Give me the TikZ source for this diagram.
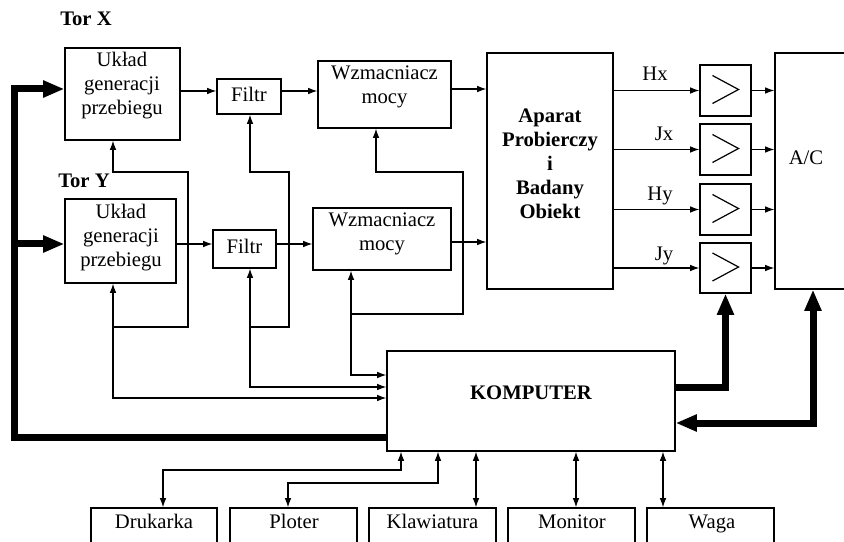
\documentclass[tikz,border=0pt]{standalone}
\usepackage{fontspec}
\setmainfont{Liberation Serif}
\usetikzlibrary{arrows.meta,fit}
\begin{document}
\begin{tikzpicture}[x=0.75pt,y=-0.75pt,
  every node/.style={font=\fontsize{15.5}{18}\selectfont},
  box/.style={draw, line width=0.9pt, inner sep=0pt, fit={#1}},
  txt/.style={align=center, inner sep=0pt},
  btxt/.style={inner sep=0pt, anchor=base},
  wire/.style={line width=0.9pt},
  >={Latex[length=7pt,width=5pt]},
  bus/.style={line width=5.25pt},
  bigtip/.tip={Triangle[length=16pt,width=12pt]}
]
\useasboundingbox (0,0) rectangle (844,542);

% boxes
\node[box={(65,48) (180,140)}] (ugpx) {};
\node[box={(217,79) (281,114)}] (fx) {};
\node[box={(318,61) (451,128)}] (wx) {};
\node[box={(487,53) (613,289)}] (ap) {};
\node[box={(700,65) (751,116)}] (a1) {};
\node[box={(700,124) (751,175)}] (a2) {};
\node[box={(700,184) (751,235)}] (a3) {};
\node[box={(700,243) (751,293)}] (a4) {};
\node[box={(775,53) (880,289)}] (ac) {};
\node[box={(65,199) (176,283)}] (ugpy) {};
\node[box={(213,230) (276,268)}] (fy) {};
\node[box={(313,208) (451,270)}] (wy) {};
\node[box={(387,351) (675,451)}] (komp) {};
\node[box={(91,508) (217,570)}] (drk) {};
\node[box={(230,508) (357,570)}] (plt) {};
\node[box={(369,508) (496,570)}] (kl) {};
\node[box={(508,508) (635,570)}] (mon) {};
\node[box={(647,508) (774,570)}] (wag) {};

% texts
\node[txt] (torx) at (86,19) {\bfseries Tor X};
\node[txt] (tory) at (84,181) {\bfseries Tor Y};
\node[txt] (ugpxt) at (122,86) {Układ\\generacji\\przebiegu};
\node[txt] (ugpyt) at (121,238) {Układ\\generacji\\przebiegu};
\node[txt] (fxt) at (249,94) {Filtr};
\node[txt] (fyt) at (244.5,246) {Filtr};
\node[txt] (wxt) at (384.5,87) {Wzmacniacz\\mocy};
\node[txt] (wyt) at (382,234) {Wzmacniacz\\mocy};
\node[txt] (apt) at (550,164) {\bfseries Aparat\\\bfseries Probierczy\\\bfseries i\\\bfseries Badany\\\bfseries Obiekt};
\node[txt] (act) at (806,158) {A/C};
\node[txt] (kompt) at (531,393) {\bfseries KOMPUTER};
\node[btxt] (drkt) at (154,528) {Drukarka};
\node[btxt] (pltt) at (294,528) {Ploter};
\node[btxt] (klt) at (432.5,528) {Klawiatura};
\node[btxt] (mont) at (572,528) {Monitor};
\node[btxt] (wagt) at (712,528) {Waga};
\node[btxt] (lhx) at (655,81) {Hx};
\node[btxt] (ljx) at (664,141) {Jx};
\node[btxt] (lhy) at (660,200) {Hy};
\node[btxt] (ljy) at (664,260) {Jy};

% amplifier symbols
\foreach \a in {a1,a2,a3,a4}
  \draw[wire] ([shift={(-13,-15)}]\a.center) -- ([shift={(13,-1)}]\a.center) -- ([shift={(-13,13)}]\a.center);

% signal path X
\draw[wire,->] (ugpx.east |- 0,91) -- (fx.west |- 0,91);
\draw[wire,->] (fx.east |- 0,91) -- (wx.west |- 0,91);
\draw[wire,->] (wx.east |- 0,89) -- (ap.west |- 0,89);
% signal path Y
\draw[wire,->] (ugpy.east |- 0,244) -- (fy.west |- 0,244);
\draw[wire,->] (fy.east |- 0,244) -- (wy.west |- 0,244);
\draw[wire,->] (wy.east |- 0,242) -- (ap.west |- 0,242);

% aparat -> amplifiers -> A/C
\foreach \a in {a1,a2,a3,a4}{
  \draw[wire,->] (ap.east |- \a.west) -- (\a.west);
  \draw[wire,->] (\a.east) -- (ac.west |- \a.east);
}

% control lines from computer
\draw[wire,<->] (ugpy.south -| 113,0) |- (komp.west |- 0,398);
\coordinate (j1) at (113,327);
\draw[wire,->] (j1) -| (188,172) -| (ugpx.south -| 113,0);

\draw[wire,<->] (fy.south -| 250,0) |- (komp.west |- 0,387);
\coordinate (j2) at (250,327);
\draw[wire,->] (j2) -| (289,172) -| (fx.south -| 250,0);

\draw[wire,<->] (wy.south -| 351,0) |- (komp.west |- 0,375);
\coordinate (j3) at (351,314);
\draw[wire,->] (j3) -| (463,172) -| (wx.south -| 376,0);

% peripherals
\draw[wire,<->] (komp.south -| 401,0) -- (401,470) -| (drk.north -| 163,0);
\draw[wire,<->] (komp.south -| 438,0) -- (438,483) -| (plt.north -| 288,0);
\draw[wire,<->] (komp.south -| 476,0) -- (kl.north -| 476,0);
\draw[wire,<->] (komp.south -| 576,0) -- (mon.north -| 576,0);
\draw[wire,<->] (komp.south -| 663,0) -- (wag.north -| 663,0);

% thick buses
\draw[bus,-bigtip] (komp.west |- 0,437) -| (14,89) -- (ugpx.west |- 0,89);
\coordinate (j4) at (14,244);
\draw[bus,-bigtip] (j4) -- (ugpy.west |- 0,244);
\draw[bus,-bigtip] (komp.east |- 0,387) -| (a4.south);
\draw[bus,bigtip-bigtip] (komp.east |- 0,423) -| (ac.south -| 813,0);
\end{tikzpicture}
\end{document}
